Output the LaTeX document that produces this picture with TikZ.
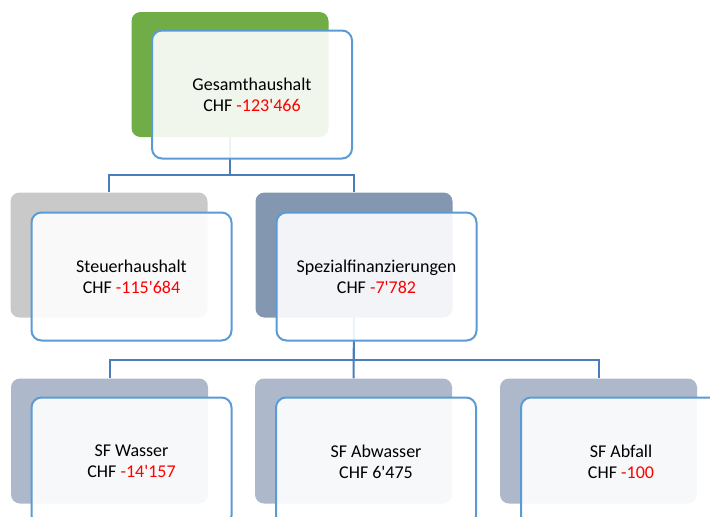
\documentclass[tikz,border=0pt]{standalone}
\usepackage{fontspec}
\setmainfont{Carlito}[Ligatures=TeXOff]
\usetikzlibrary{calc}
\definecolor{gesgreen}{HTML}{70AD47}
\definecolor{stegray}{HTML}{C9C9C9}
\definecolor{spzblue}{HTML}{8497B0}
\definecolor{sfblue}{HTML}{ADB9CA}
\definecolor{frameblue}{HTML}{5B9BD5}
\definecolor{lineblue}{HTML}{4A7EBB}
\definecolor{minus}{HTML}{FF0000}

\begin{document}
\begin{tikzpicture}[x=1pt, y=-1pt]

		\tikzstyle{back}  = [rectangle, rounded corners=9pt, minimum width=197pt, minimum height=125pt, inner sep=0pt]
		\tikzstyle{front} = [rectangle, rounded corners=10pt, draw=frameblue, line width=2pt, fill=white, fill opacity=0.9, text opacity=1, minimum width=200pt, minimum height=128pt, align=center, font=\fontsize{18}{21}\selectfont]
		\tikzstyle{conn}  = [draw=lineblue, line width=2pt]

		\useasboundingbox (0,0) rectangle (710,517);

		%%Back boxes
		\node [back, fill=gesgreen](gesB) at (230, 74.5) {};
		\node [back, fill=stegray](steB) at (109, 255) {};
		\node [back, fill=spzblue](spzB) at (354, 255) {};
		\node [back, fill=sfblue](wasB) at (109.5, 441) {};
		\node [back, fill=sfblue](abwB) at (353.5, 441) {};
		\node [back, fill=sfblue](abfB) at (598.5, 441) {};

		%%Connectors
		\draw [conn] (gesB.south) -- ++(0,38) -| (steB.north);
		\draw [conn] (gesB.south) -- ++(0,38) -| (spzB.north);
		\draw [conn] (spzB.south) -- ++(0,42) -| (wasB.north);
		\draw [conn] (spzB.south) -- (abwB.north);
		\draw [conn] (spzB.south) -- ++(0,42) -| (abfB.north);

		%%Front boxes with labels
		\node [front](ges) at (252, 94.5) {Gesamthaushalt\\CHF \textcolor{minus}{-123'466}};
		\node [front](ste) at (131.5, 276.5) {Steuerhaushalt\\CHF \textcolor{minus}{-115'684}};
		\node [front](spz) at (376.5, 276.5) {Spezialfinanzierungen\\CHF \textcolor{minus}{-7'782}};
		\node [front](was) at (131.5, 461.5) {SF Wasser\\CHF \textcolor{minus}{-14'157}};
		\node [front](abw) at (376, 461.5) {SF Abwasser\\CHF 6'475};
		\node [front](abf) at (621, 461.5) {SF Abfall\\CHF \textcolor{minus}{-100}};

	\end{tikzpicture}
\end{document}
